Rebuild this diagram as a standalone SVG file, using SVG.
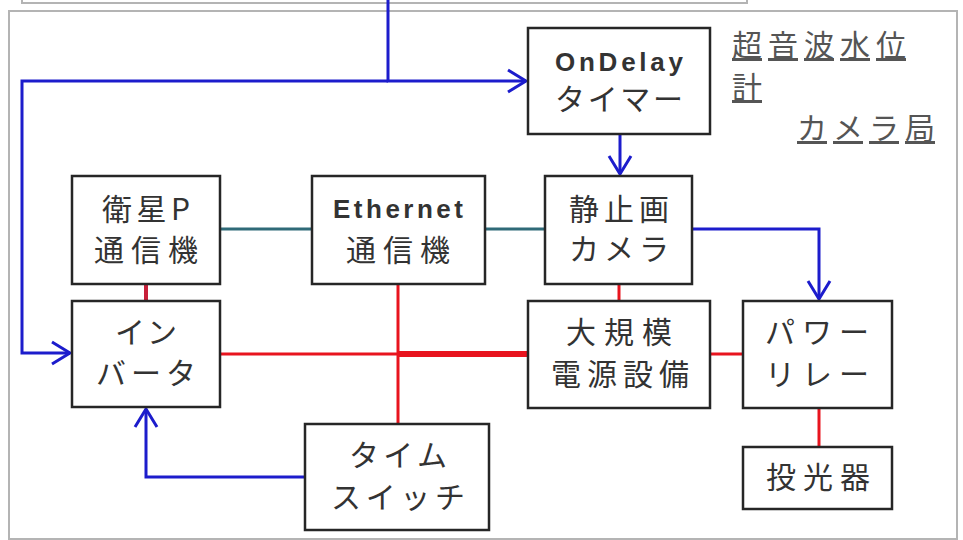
<svg xmlns="http://www.w3.org/2000/svg" width="963" height="540" viewBox="0 0 963 540">
<style>
.frame{fill:none;stroke:#b4b4b4;stroke-width:2}
.box{fill:#fff;stroke:#262626;stroke-width:2.5}
.t{font-family:"Noto Sans CJK JP","Liberation Sans",sans-serif;font-size:30px;fill:#333;text-anchor:middle}
.e{font-family:"Liberation Sans","Noto Sans",sans-serif;font-size:26px;font-weight:bold;fill:#333;text-anchor:middle}
.lbl{font-family:"Noto Sans CJK JP","Liberation Sans",sans-serif;font-size:30px;fill:#555;text-decoration:underline}
.blue{fill:none;stroke:#1c1ccc;stroke-width:3}
.teal{fill:none;stroke:#2f6a78;stroke-width:3}
.red{fill:none;stroke:#e8141e;stroke-width:3}
.redk{fill:none;stroke:#e8141e;stroke-width:6}
.dred{fill:none;stroke:#c8203a;stroke-width:4}
</style>
<defs>
<marker id="arr" markerUnits="userSpaceOnUse" viewBox="-20 -13 22 26" markerWidth="22" markerHeight="26" refX="0" refY="0" orient="auto">
<path d="M-18,-11 L0,0 L-18,11" fill="none" stroke="#1c1ccc" stroke-width="3"/>
</marker>
</defs>
<rect x="0" y="0" width="963" height="540" fill="#fff"/>
<path class="frame" d="M22,0 V3 H747 V0"/>
<rect class="frame" x="9" y="11" width="948" height="528"/>

<g id="connectors">
<path class="blue" d="M388,0 V81 H526" marker-end="url(#arr)"/>
<path class="blue" d="M388,81 H22 V353 H70" marker-end="url(#arr)"/>
<path class="blue" d="M620,134 V174" marker-end="url(#arr)"/>
<path class="blue" d="M692,229 H819 V299" marker-end="url(#arr)"/>
<path class="blue" d="M305,477 H146 V409" marker-end="url(#arr)"/>
<path class="teal" d="M220,229 H312"/>
<path class="teal" d="M485,229 H545"/>
<path class="dred" d="M146,284 V301"/>
<path class="red" d="M619,284 V301"/>
<path class="red" d="M220,354 H398"/>
<path class="redk" d="M398,354 H528"/>
<path class="red" d="M398,284 V424"/>
<path class="red" d="M710,354 H743"/>
<path class="red" d="M819,408 V447"/>
</g>

<g id="ondelay">
<rect class="box" x="528" y="28" width="182" height="106"/>
<text class="e" x="619" y="71" textLength="128" lengthAdjust="spacing">OnDelay</text>
<text class="t" x="619" y="110" textLength="128" lengthAdjust="spacing">タイマー</text>
</g>

<g id="eisei">
<rect class="box" x="72" y="176" width="148" height="108"/>
<text class="t" x="146" y="220" textLength="88" lengthAdjust="spacing">衛星P</text>
<text class="t" x="146" y="261" textLength="104" lengthAdjust="spacing">通信機</text>
</g>

<g id="ethernet">
<rect class="box" x="312" y="176" width="173" height="108"/>
<text class="e" x="398" y="218" textLength="130" lengthAdjust="spacing">Ethernet</text>
<text class="t" x="398" y="261" textLength="104" lengthAdjust="spacing">通信機</text>
</g>

<g id="camera">
<rect class="box" x="545" y="176" width="147" height="108"/>
<text class="t" x="619" y="220" textLength="100" lengthAdjust="spacing">静止画</text>
<text class="t" x="619" y="260" textLength="100" lengthAdjust="spacing">カメラ</text>
</g>

<g id="inverter">
<rect class="box" x="72" y="301" width="148" height="106"/>
<text class="t" x="146" y="343" textLength="62" lengthAdjust="spacing">イン</text>
<text class="t" x="146" y="384" textLength="100" lengthAdjust="spacing">バータ</text>
</g>

<g id="power">
<rect class="box" x="528" y="301" width="182" height="107"/>
<text class="t" x="619" y="343" textLength="106" lengthAdjust="spacing">大規模</text>
<text class="t" x="620" y="385" textLength="138" lengthAdjust="spacing">電源設備</text>
</g>

<g id="relay">
<rect class="box" x="743" y="301" width="149" height="107"/>
<text class="t" x="817" y="343" textLength="104" lengthAdjust="spacing">パワー</text>
<text class="t" x="817" y="385" textLength="104" lengthAdjust="spacing">リレー</text>
</g>

<g id="timeswitch">
<rect class="box" x="305" y="424" width="184" height="106"/>
<text class="t" x="398" y="466" textLength="98" lengthAdjust="spacing">タイム</text>
<text class="t" x="398" y="508" textLength="134" lengthAdjust="spacing">スイッチ</text>
</g>

<g id="projector">
<rect class="box" x="743" y="447" width="149" height="62"/>
<text class="t" x="818" y="488" textLength="104" lengthAdjust="spacing">投光器</text>
</g>

<g id="labels">
<text class="lbl" x="732" y="56" textLength="174" lengthAdjust="spacing">超音波水位</text>
<text class="lbl" x="732" y="98">計</text>
<text class="lbl" x="797" y="139" textLength="138" lengthAdjust="spacing">カメラ局</text>
</g>
</svg>
